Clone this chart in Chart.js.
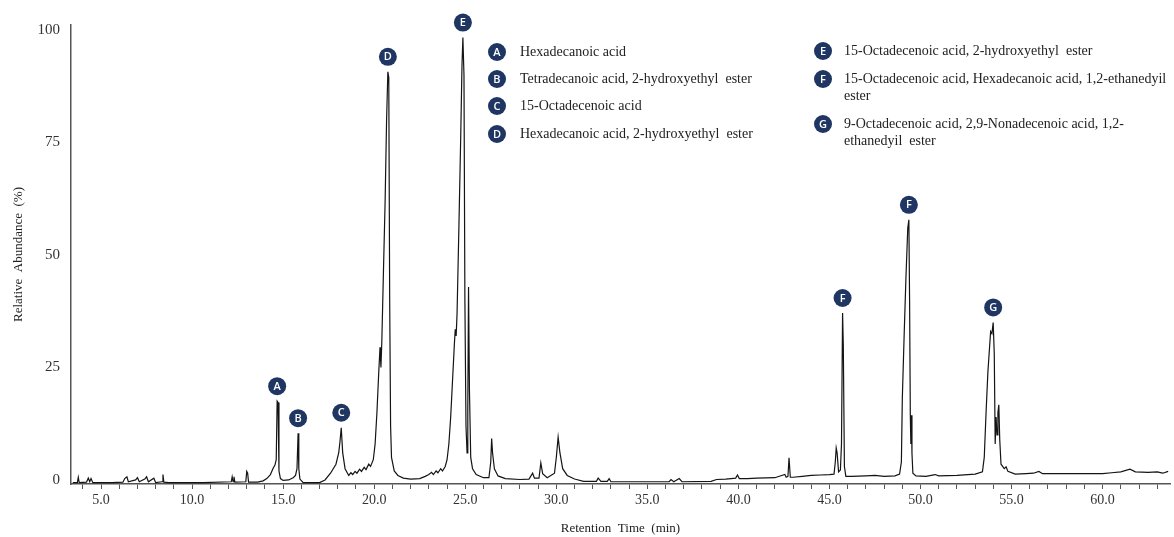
<!DOCTYPE html>
<html>
<head>
<meta charset="utf-8">
<script src="https://cdn.jsdelivr.net/npm/chart.js@4.4.1/dist/chart.umd.min.js"></script>
<style>
  html, body { margin: 0; padding: 0; background: #fff; }
  canvas { display: block; }
</style>
</head>
<body>
<canvas id="chrom" width="1174" height="537"></canvas>
<script>
// chromatogram trace (min, %)
const retentionTime = [
  3.45, 3.7, 3.75, 3.8, 4.2, 4.3, 4.38, 4.45, 4.55, 5.6, 6.2, 6.3, 6.42, 6.5, 6.9, 7.0, 7.1, 7.4, 7.5, 7.6,
  7.9, 8.0, 8.35, 8.4, 8.45, 8.7, 10.6, 12.15, 12.2, 12.25, 12.3, 12.35, 12.95, 13.0, 13.05, 13.1, 13.6, 13.9,
  14.1, 14.3, 14.45, 14.55, 14.62, 14.67, 14.72, 14.77, 14.85, 15.0, 15.3, 15.55, 15.68, 15.76, 15.82, 15.86,
  15.92, 16.1, 17.0, 17.3, 17.6, 17.9, 18.05, 18.12, 18.19, 18.27, 18.4, 18.6, 18.72, 18.82, 18.95, 19.05,
  19.2, 19.3, 19.45, 19.55, 19.7, 19.8, 19.95, 20.05, 20.15, 20.25, 20.32, 20.37, 20.42, 20.5, 20.6, 20.68,
  20.75, 20.8, 20.85, 20.9, 20.95, 21.1, 21.3, 21.6, 22.0, 22.5, 22.8, 23.0, 23.15, 23.25, 23.4, 23.5, 23.65,
  23.75, 23.9, 24.0, 24.1, 24.2, 24.3, 24.4, 24.45, 24.5, 24.55, 24.65, 24.75, 24.82, 24.87, 24.93, 24.98,
  25.04, 25.1, 25.14, 25.18, 25.23, 25.3, 25.4, 25.6, 26.0, 26.3, 26.4, 26.45, 26.5, 26.6, 26.8, 27.2, 28.0,
  28.5, 28.7, 28.8, 29.05, 29.15, 29.25, 29.5, 29.9, 30.0, 30.1, 30.2, 30.35, 30.6, 31.0, 31.5, 32.2, 32.3,
  32.45, 32.8, 32.9, 33.0, 36.2, 36.3, 36.45, 36.75, 36.9, 38.5, 38.8, 39.3, 39.6, 39.85, 39.95, 40.05, 40.5,
  41.0, 42.0, 42.55, 42.62, 42.72, 42.78, 42.85, 43.0, 43.5, 44.0, 44.5, 45.0, 45.25, 45.32, 45.37, 45.42,
  45.5, 45.6, 45.66, 45.72, 45.76, 45.82, 45.9, 46.2, 47.0, 47.5, 48.0, 48.6, 48.85, 48.95, 49.0, 49.1, 49.2,
  49.3, 49.36, 49.4, 49.44, 49.47, 49.5, 49.53, 49.58, 49.75, 50.3, 50.8, 51.0, 52.0, 53.0, 53.4, 53.5, 53.6,
  53.7, 53.85, 53.92, 53.99, 54.05, 54.1, 54.15, 54.2, 54.25, 54.3, 54.35, 54.42, 54.6, 54.7, 54.8, 55.2,
  55.8, 56.2, 56.5, 56.7, 57.5, 59.0, 60.0, 60.5, 61.0, 61.5, 61.8, 62.5, 63.0, 63.3, 63.6
];
const abundance = [
  -0.6, -0.6, 0.6, -0.6, -0.5, 0.4, -0.4, 0.3, -0.6, -0.6, -0.5, 0.3, 0.7, -0.4, 0.0, 0.5, -0.4, 0.2, 0.7, -0.4,
  0.4, -0.6, -0.4, 1.2, -0.5, -0.6, -0.6, -0.4, 0.7, -0.4, 0.7, -0.5, -0.4, 1.9, 1.5, -0.5, -0.5, -0.2,
  0.3, 1.2, 2.6, 3.3, 4.5, 17.5, 17.2, 2.0, 0.3, -0.1, 0.0, 0.5, 1.0, 2.5, 10.4, 2.5,
  0.2, -0.6, -0.6, 0.0, 1.5, 3.5, 6.0, 8.5, 11.6, 6.0, 2.5, 1.0, 1.6, 1.2, 1.9, 1.5,
  2.4, 1.9, 2.8, 2.3, 3.5, 3.0, 4.5, 8, 15, 24, 29.5, 25, 31, 45, 62, 80,
  90.7, 89.5, 40, 12, 5, 2, 1, 0.4, 0.2, 0.3, 0.8, 1.2, 1.7, 1.2, 2.0, 1.6, 2.5,
  2.0, 3.0, 4.5, 8, 14, 22, 30, 33.5, 32, 37, 56, 76, 92, 98.3, 90, 40,
  12, 6, 16, 42.9, 20, 5, 2.5, 1.2, 0.5, 0.5, 4, 9.2, 6, 2.5, 0.9, 0.3, 0.1,
  0.2, 1.5, 0.4, 0.4, 3.8, 1.4, 0.5, 1.5, 5, 9.5, 6, 2.5, 1.0, 0.2, -0.3, -0.3, 0.4,
  -0.3, -0.3, 0.3, -0.4, -0.4, 0.1, -0.4, 0.3, -0.4, -0.3, 0.1, 0.2, 0.3, 0.4, 1.1, 0.3, 0.3,
  0.4, 0.5, 1.2, 0.6, 0.8, 4.9, 0.6, 0.6, 0.8, 1.0, 1.1, 1.2, 1.3, 4, 7.1, 6,
  1.8, 2.2, 8, 37.1, 30, 3, 0.8, 0.8, 0.9, 1.0, 0.8, 0.9, 1.3, 4, 18, 32, 45,
  56, 57.8, 40, 14.4, 8, 14.4, 6, 1.5, 0.9, 0.8, 1.2, 0.9, 1.0, 1.3, 1.8, 5, 15,
  24, 33, 32.5, 35, 28, 8, 14, 10, 15, 16.7, 9, 3.5, 2.5, 2.9, 1.9, 1.3,
  1.4, 1.5, 1.9, 1.4, 1.4, 1.4, 1.4, 1.6, 1.8, 2.4, 1.8, 1.7, 1.8, 1.5, 1.9
];

const yTicks = [0, 25, 50, 75, 100];

// lettered peaks
const peakLetters = ['A', 'B', 'C', 'D', 'E', 'F', 'F', 'G'];
const peakTimes = [14.67, 15.82, 18.19, 20.75, 24.87, 45.72, 49.36, 53.99];

// compound key
const compoundLetters = ['A', 'B', 'C', 'D', 'E', 'F', 'G'];
const compoundNames = [
  ['Hexadecanoic acid'],
  ['Tetradecanoic acid, 2-hydroxyethyl  ester'],
  ['15-Octadecenoic acid'],
  ['Hexadecanoic acid, 2-hydroxyethyl  ester'],
  ['15-Octadecenoic acid, 2-hydroxyethyl  ester'],
  ['15-Octadecenoic acid, Hexadecanoic acid, 1,2-ethanedyil', 'ester'],
  ['9-Octadecenoic acid, 2,9-Nonadecenoic acid, 1,2-', 'ethanedyil  ester']
];

const SERIF = '"Liberation Serif", "Times New Roman", serif';
const NAVY = '#1f3662';

function badge(ctx, x, y, letter) {
  ctx.beginPath();
  ctx.arc(x, y, 9, 0, Math.PI * 2);
  ctx.fillStyle = NAVY;
  ctx.fill();
  ctx.fillStyle = '#fff';
  ctx.font = '600 11px "Open Sans", sans-serif';
  ctx.textAlign = 'center';
  ctx.textBaseline = 'middle';
  ctx.fillText(letter, x, y + 0.5);
}

const peakBadges = {
  id: 'peakBadges',
  afterDatasetsDraw(chart) {
    const {ctx, scales: {x, y}} = chart;
    ctx.save();
    peakLetters.forEach((letter, i) => {
      const t = peakTimes[i];
      let top = -Infinity;
      retentionTime.forEach((rt, j) => {
        if (Math.abs(rt - t) <= 0.08 && abundance[j] > top) top = abundance[j];
      });
      badge(ctx, x.getPixelForValue(t), y.getPixelForValue(top) - 15, letter);
    });
    ctx.restore();
  }
};

const compoundKey = {
  id: 'compoundKey',
  afterDraw(chart) {
    const ctx = chart.ctx;
    const cols = [{cx: 497, tx: 520, rows: [52, 79, 106, 134]},
                  {cx: 823, tx: 844, rows: [51, 79, 124]}];
    ctx.save();
    compoundLetters.forEach((letter, i) => {
      const col = i < 4 ? cols[0] : cols[1];
      const cy = col.rows[i < 4 ? i : i - 4];
      badge(ctx, col.cx, cy, letter);
      ctx.fillStyle = '#222';
      ctx.font = '14px ' + SERIF;
      ctx.textAlign = 'left';
      ctx.textBaseline = 'middle';
      compoundNames[i].forEach((line, k) => ctx.fillText(line, col.tx, cy + k * 17));
    });
    ctx.restore();
  }
};

new Chart(document.getElementById('chrom'), {
  type: 'line',
  data: {
    datasets: [{
      data: retentionTime.map((t, i) => ({x: t, y: abundance[i]})),
      borderColor: '#141414',
      borderWidth: 1.2,
      pointRadius: 0,
      tension: 0,
      fill: false
    }]
  },
  options: {
    responsive: false,
    animation: false,
    devicePixelRatio: 1,
    layout: {padding: {top: 25, right: 4, left: 0, bottom: 0}},
    plugins: {legend: {display: false}, tooltip: {enabled: false}},
    scales: {
      x: {
        type: 'linear',
        min: 3.35,
        max: 63.7,
        afterBuildTicks: s => {
          const ticks = [];
          for (let v = 4; v <= 63; v++) ticks.push({value: v});
          s.ticks = ticks;
        },
        afterFit: s => { s.height = 53; },
        ticks: {
          autoSkip: false,
          maxRotation: 0,
          padding: 3,
          color: '#333',
          font: {family: SERIF, size: 14},
          callback: v => (v % 5 === 0 ? v.toFixed(1) : '')
        },
        grid: {display: true, drawOnChartArea: false, drawTicks: true, tickLength: 5, color: '#555', lineWidth: 1},
        border: {display: true, color: '#555', width: 1.5},
        title: {display: true, text: 'Retention  Time  (min)', color: '#222', font: {family: SERIF, size: 13}, padding: {top: 1, bottom: 1}}
      },
      y: {
        min: -0.9,
        max: 101.1,
        afterBuildTicks: s => { s.ticks = yTicks.map(v => ({value: v})); },
        afterFit: s => { s.width = 71; },
        ticks: {padding: 11, color: '#333', font: {family: SERIF, size: 15}},
        grid: {display: false, drawTicks: false},
        border: {display: true, color: '#555', width: 1.5},
        title: {display: true, text: 'Relative  Abundance  (%)', color: '#222', font: {family: SERIF, size: 13}, padding: {top: 11, bottom: 2}}
      }
    }
  },
  plugins: [peakBadges, compoundKey]
});
</script>
</body>
</html>
